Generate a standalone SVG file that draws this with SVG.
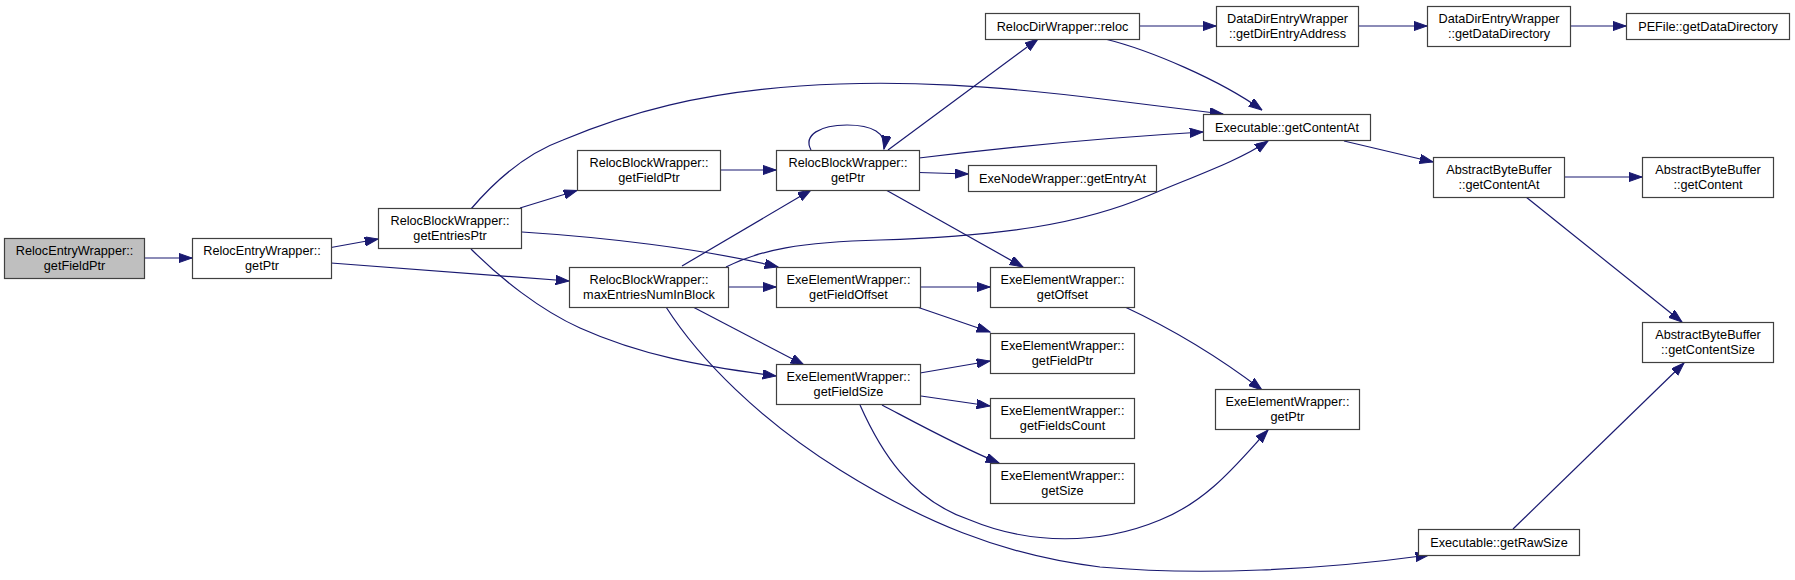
<svg xmlns="http://www.w3.org/2000/svg" width="1795" height="580" viewBox="0 0 1795 580">
<style>
.n rect{fill:#ffffff;stroke:#404040;stroke-width:1.2}
.n.root rect{fill:#bfbfbf}
.n text{font-family:"Liberation Sans",Arial,Helvetica,sans-serif;font-size:12.7px;fill:#000000;text-anchor:middle}
#edges path{fill:none;stroke:#191970;stroke-width:1.2;marker-end:url(#arr)}
</style>
<defs>
<marker id="arr" markerUnits="userSpaceOnUse" markerWidth="14" markerHeight="10" refX="13.3" refY="4.67" orient="auto">
<path d="M0,0 L13.3,4.67 L0,9.33 Z" fill="#191970" stroke="#191970" stroke-width="1"/>
</marker>
</defs>
<rect width="1795" height="580" fill="#ffffff"/>
<g id="edges">
<path d="M144,258 L192,258"/>
<path d="M331,247.5 L378,239"/>
<path d="M331,263 L569,281"/>
<path d="M520,208 L577,190.5"/>
<path d="M471,209 C500,175 530,152 563,140 C630,112 700,93 800,86 C900,79 1000,86 1110,100 L1223,114"/>
<path d="M522,232 C600,237 700,248 778,267"/>
<path d="M471,249 C500,278 540,310 580,328 C640,355 700,366 776,376"/>
<path d="M720,170 L776,170"/>
<path d="M682,266 L811,190"/>
<path d="M726,267 C760,250 800,242 880,240 C1000,236 1080,225 1150,195 C1200,174 1240,160 1268,141"/>
<path d="M728,287 L776,287"/>
<path d="M693,307 L804,365"/>
<path d="M666,307 C700,360 760,420 840,470 C920,520 1000,555 1100,567 C1200,576 1320,570 1429,555"/>
<path d="M811,150 C803,135 820,125 847,125 C872,125 887,133 884,149"/>
<path d="M888,150 L1038,39"/>
<path d="M919,158 C1000,148 1100,138 1203,132"/>
<path d="M919,172.5 L968,174"/>
<path d="M886,190 L1023,267"/>
<path d="M920,287 L990,287"/>
<path d="M917,307 L990,332"/>
<path d="M920,373 L990,361"/>
<path d="M921,396 L990,406"/>
<path d="M882,405 C920,425 960,447 999,463"/>
<path d="M860,405 C880,450 910,500 970,520 C1030,545 1100,545 1160,520 C1210,500 1240,460 1268,430"/>
<path d="M1125,307 C1170,328 1220,358 1262,390"/>
<path d="M1139,26 L1216,26"/>
<path d="M1105,39 C1150,50 1220,80 1262,110"/>
<path d="M1358,26 L1427,26"/>
<path d="M1570,26 L1626,26"/>
<path d="M1344,141 L1433,162"/>
<path d="M1564,177 L1642,177"/>
<path d="M1526,197 L1682,322"/>
<path d="M1513,529 L1684,363"/>
</g>
<g id="n1" class="n root"><rect x="4.5" y="238.5" width="140" height="40"/><text x="74.5" y="255">RelocEntryWrapper::</text><text x="74.5" y="269.5">getFieldPtr</text></g>
<g id="n2" class="n"><rect x="192.5" y="238.5" width="139" height="40"/><text x="262" y="255">RelocEntryWrapper::</text><text x="262" y="269.5">getPtr</text></g>
<g id="n3" class="n"><rect x="378.5" y="208.5" width="143" height="40"/><text x="450" y="225">RelocBlockWrapper::</text><text x="450" y="239.5">getEntriesPtr</text></g>
<g id="n4" class="n"><rect x="577.5" y="150.5" width="143" height="40"/><text x="649" y="167">RelocBlockWrapper::</text><text x="649" y="181.5">getFieldPtr</text></g>
<g id="n5" class="n"><rect x="569.5" y="267.5" width="159" height="40"/><text x="649" y="284">RelocBlockWrapper::</text><text x="649" y="298.5">maxEntriesNumInBlock</text></g>
<g id="n6" class="n"><rect x="776.5" y="150.5" width="143" height="40"/><text x="848" y="167">RelocBlockWrapper::</text><text x="848" y="181.5">getPtr</text></g>
<g id="n7" class="n"><rect x="776.5" y="267.5" width="144" height="40"/><text x="848.5" y="284">ExeElementWrapper::</text><text x="848.5" y="298.5">getFieldOffset</text></g>
<g id="n8" class="n"><rect x="776.5" y="364.5" width="144" height="40"/><text x="848.5" y="381">ExeElementWrapper::</text><text x="848.5" y="395.5">getFieldSize</text></g>
<g id="n9" class="n"><rect x="985.5" y="13.5" width="154" height="26"/><text x="1062.5" y="30.5">RelocDirWrapper::reloc</text></g>
<g id="n10" class="n"><rect x="968.5" y="165.5" width="188" height="26"/><text x="1062.5" y="182.5">ExeNodeWrapper::getEntryAt</text></g>
<g id="n11" class="n"><rect x="990.5" y="267.5" width="144" height="40"/><text x="1062.5" y="284">ExeElementWrapper::</text><text x="1062.5" y="298.5">getOffset</text></g>
<g id="n12" class="n"><rect x="990.5" y="333.5" width="144" height="40"/><text x="1062.5" y="350">ExeElementWrapper::</text><text x="1062.5" y="364.5">getFieldPtr</text></g>
<g id="n13" class="n"><rect x="990.5" y="398.5" width="144" height="40"/><text x="1062.5" y="415">ExeElementWrapper::</text><text x="1062.5" y="429.5">getFieldsCount</text></g>
<g id="n14" class="n"><rect x="990.5" y="463.5" width="144" height="40"/><text x="1062.5" y="480">ExeElementWrapper::</text><text x="1062.5" y="494.5">getSize</text></g>
<g id="n15" class="n"><rect x="1216.5" y="6.5" width="142" height="40"/><text x="1287.5" y="23">DataDirEntryWrapper</text><text x="1287.5" y="37.5">::getDirEntryAddress</text></g>
<g id="n16" class="n"><rect x="1203.5" y="114.5" width="167" height="26"/><text x="1287" y="131.5">Executable::getContentAt</text></g>
<g id="n17" class="n"><rect x="1215.5" y="389.5" width="144" height="40"/><text x="1287.5" y="406">ExeElementWrapper::</text><text x="1287.5" y="420.5">getPtr</text></g>
<g id="n18" class="n"><rect x="1418.5" y="529.5" width="161" height="26"/><text x="1499" y="546.5">Executable::getRawSize</text></g>
<g id="n19" class="n"><rect x="1427.5" y="6.5" width="143" height="40"/><text x="1499" y="23">DataDirEntryWrapper</text><text x="1499" y="37.5">::getDataDirectory</text></g>
<g id="n20" class="n"><rect x="1433.5" y="157.5" width="131" height="40"/><text x="1499" y="174">AbstractByteBuffer</text><text x="1499" y="188.5">::getContentAt</text></g>
<g id="n21" class="n"><rect x="1626.5" y="13.5" width="163" height="26"/><text x="1708" y="30.5">PEFile::getDataDirectory</text></g>
<g id="n22" class="n"><rect x="1642.5" y="157.5" width="131" height="40"/><text x="1708" y="174">AbstractByteBuffer</text><text x="1708" y="188.5">::getContent</text></g>
<g id="n23" class="n"><rect x="1642.5" y="322.5" width="131" height="40"/><text x="1708" y="339">AbstractByteBuffer</text><text x="1708" y="353.5">::getContentSize</text></g>
</svg>
